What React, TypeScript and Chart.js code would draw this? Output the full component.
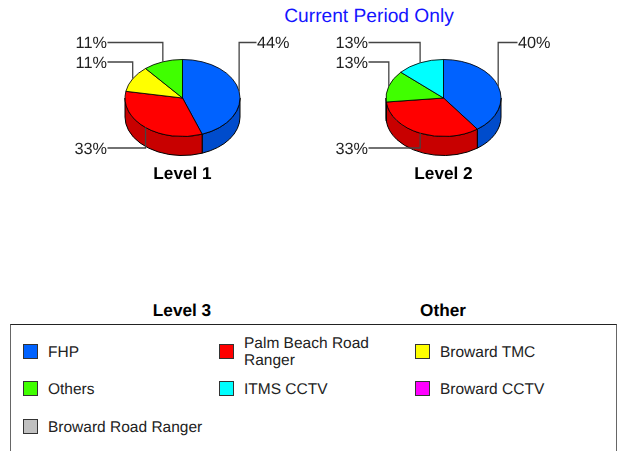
import React, { useEffect, useRef } from "react";
import { Chart, registerables } from "chart.js";

Chart.register(...registerables);

const categories = ["FHP", "Palm Beach Road Ranger", "Broward TMC", "Others", "ITMS CCTV", "Broward CCTV", "Broward Road Ranger"];
const topColors = ["#0062FF", "#FF0000", "#FFFF00", "#40FF00", "#00FFFF", "#FF00FF", "#C0C0C0"];
const sideColors = ["#004CCC", "#C80000", "#CCCC00", "#33CC00", "#00CCCC", "#CC00CC", "#999999"];
const level1Values = [4, 3, 1, 1, 0, 0, 0];
const level2Values = [6, 5, 0, 2, 2, 0, 0];
const FONT = '"Liberation Sans", Arial, sans-serif';

const SQUASH = 0.67;
const DEPTH = 19;

function makePlugin(title: string, values: number[]) {
  const total = values.reduce((a, b) => a + b, 0);
  return {
    id: "pie3d",
    beforeDatasetsDraw(chart: any) {
      const ctx = chart.ctx;
      const arcs = chart.getDatasetMeta(0).data;
      ctx.save();
      arcs.forEach((arc: any, i: number) => {
        if (!values[i]) return;
        const a0 = Math.max(arc.startAngle, 0);
        const a1 = Math.min(arc.endAngle, Math.PI);
        if (a1 <= a0) return;
        const r = arc.outerRadius;
        const ry = r * SQUASH;
        ctx.beginPath();
        ctx.ellipse(arc.x, arc.y + DEPTH, r, ry, 0, a0, a1);
        ctx.ellipse(arc.x, arc.y, r, ry, 0, a1, a0, true);
        ctx.closePath();
        ctx.fillStyle = sideColors[i];
        ctx.fill();
        ctx.strokeStyle = "#000";
        ctx.lineWidth = 1;
        ctx.stroke();
      });
      ctx.restore();
      const first = arcs[0];
      ctx.save();
      ctx.translate(0, first.y);
      ctx.scale(1, SQUASH);
      ctx.translate(0, -first.y);
    },
    afterDatasetsDraw(chart: any) {
      const ctx = chart.ctx;
      ctx.restore();
      ctx.textRendering = "geometricPrecision";
      const arcs = chart.getDatasetMeta(0).data;
      const c = arcs[0];
      const upperRows = [-55.5, -36];
      const present: number[] = [];
      values.forEach((v, i) => { if (v) present.push(i); });
      const upperLeft = present
        .filter((i) => (arcs[i].startAngle + arcs[i].endAngle) / 2 > Math.PI)
        .sort((a, b) => arcs[b].startAngle - arcs[a].startAngle);
      ctx.font = `16.3px ${FONT}`;
      ctx.textBaseline = "middle";
      present.forEach((i) => {
        const m = (arcs[i].startAngle + arcs[i].endAngle) / 2;
        const px = c.x + c.outerRadius * Math.cos(m);
        const py = c.y + c.outerRadius * SQUASH * Math.sin(m);
        const right = Math.cos(m) > 0;
        let rowY: number;
        if (right) rowY = upperRows[0];
        else if (m < Math.PI) rowY = 50;
        else rowY = upperRows[upperLeft.indexOf(i)];
        const ly = c.y + rowY;
        const lx = right ? c.x + 74 : c.x - 75;
        ctx.beginPath();
        ctx.moveTo(lx, ly);
        ctx.lineTo(px, ly);
        ctx.lineTo(px, py);
        ctx.strokeStyle = "#444";
        ctx.lineWidth = 1.3;
        ctx.stroke();
        ctx.fillStyle = "#222";
        ctx.textAlign = right ? "left" : "right";
        ctx.fillText(`${Math.round((values[i] / total) * 100)}%`, right ? lx + 0.5 : lx - 0.5, ly + 1.5);
      });
      ctx.font = `bold 17.2px ${FONT}`;
      ctx.fillStyle = "#000";
      ctx.textAlign = "center";
      ctx.fillText(title, c.x, c.y + 76.5);
    },
  };
}

function Pie({ title, values, left }: { title: string; values: number[]; left: number }) {
  const ref = useRef<HTMLCanvasElement>(null);
  useEffect(() => {
    const chart = new Chart(ref.current!, {
      type: "pie",
      data: {
        labels: categories,
        datasets: [{ data: values, backgroundColor: topColors, borderColor: "#000", borderWidth: 1 }],
      },
      options: {
        responsive: false,
        animation: false,
        layout: { padding: { left: 64.5, right: 69.5, top: 20, bottom: 34 } },
        plugins: { legend: { display: false }, tooltip: { enabled: false }, title: { display: false } },
      },
      plugins: [makePlugin(title, values)],
    } as any);
    return () => chart.destroy();
  }, []);
  return <canvas ref={ref} width={250} height={170} style={{ position: "absolute", left, top: 20, width: 250, height: 170 }} />;
}

const text = (s: React.CSSProperties): React.CSSProperties => ({ position: "absolute", fontFamily: FONT, whiteSpace: "nowrap", textRendering: "geometricPrecision", ...s });

const legendCols = [23, 219, 415];
const legendRows = [344, 381, 419];

export default function App() {
  useEffect(() => {
    document.documentElement.style.overflow = "hidden";
    document.body.style.margin = "0";
  }, []);
  return (
    <div style={{ position: "absolute", left: 0, top: 0, width: 621, height: 451, overflow: "hidden", background: "#fff" }}>
      <div style={text({ left: 0, width: 738, textAlign: "center", top: 6, fontSize: 19.2, color: "#1414FF", lineHeight: "22px" })}>Current Period Only</div>
      <Pie title="Level 1" values={level1Values} left={60} />
      <Pie title="Level 2" values={level2Values} left={321} />
      <div style={text({ left: 82, width: 200, textAlign: "center", top: 300, fontSize: 17.2, fontWeight: 700, lineHeight: "20px", color: "#000" })}>Level 3</div>
      <div style={text({ left: 343, width: 200, textAlign: "center", top: 300, fontSize: 17.2, fontWeight: 700, lineHeight: "20px", color: "#000" })}>Other</div>
      <div style={{ position: "absolute", left: 10, top: 324, width: 607, height: 200, borderTop: "1px solid #222", borderLeft: "1.5px solid #666", borderRight: "1px solid #666", boxSizing: "border-box" }} />
      {categories.map((c, i) => {
        const col = i % 3;
        const row = Math.floor(i / 3);
        return (
          <React.Fragment key={c}>
            <div style={{ position: "absolute", left: legendCols[col], top: legendRows[row], width: 15, height: 15, boxSizing: "border-box", background: topColors[i], border: "1px solid #333" }} />
            <div style={text({ left: legendCols[col] + 25, top: legendRows[row] - 12, height: 40, width: 160, display: "flex", alignItems: "center", whiteSpace: "normal", fontSize: 15.5, lineHeight: "17px", color: "#222" })}>{c}</div>
          </React.Fragment>
        );
      })}
    </div>
  );
}
